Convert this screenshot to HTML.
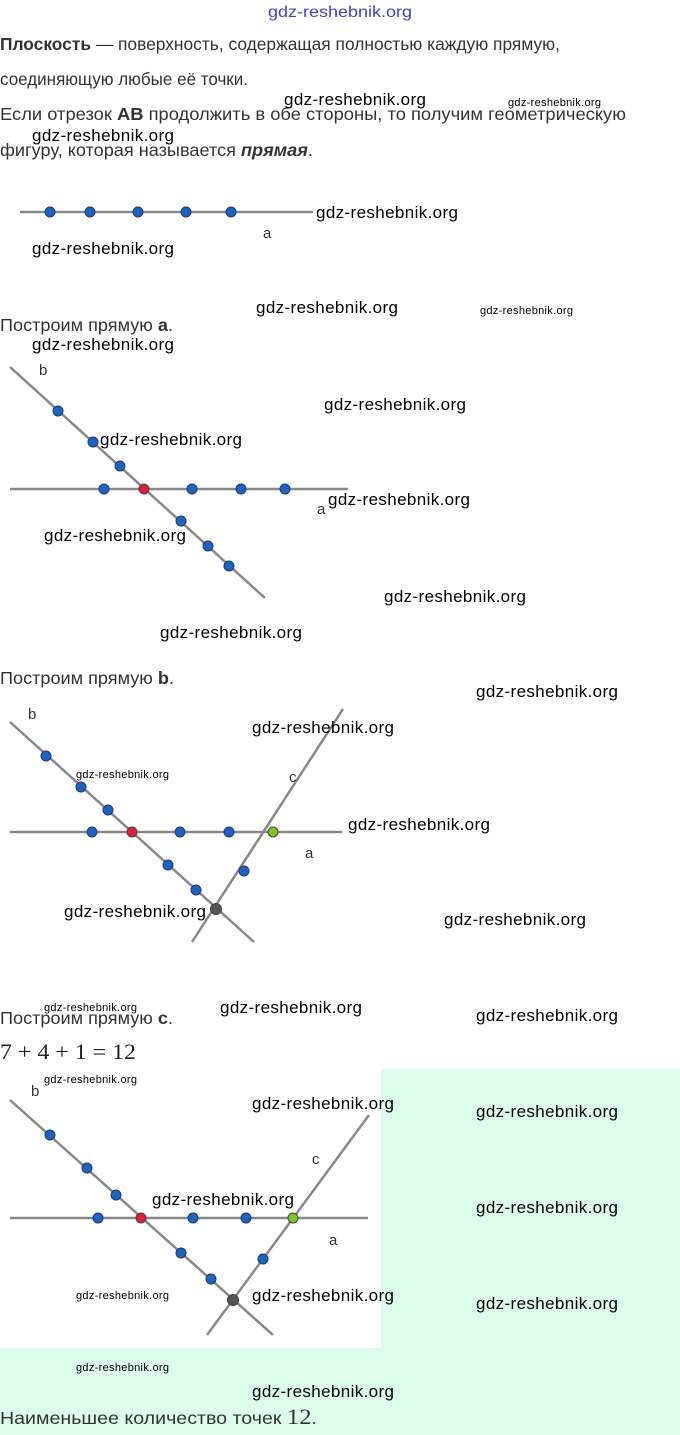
<!DOCTYPE html>
<html><head><meta charset="utf-8"><style>
html,body{margin:0;padding:0;background:#fff;}
svg{display:block;}
.t{font-family:"Liberation Sans",sans-serif;font-size:17.5px;fill:#333;}
.w{font-family:"Liberation Sans",sans-serif;font-size:17px;fill:#000;}
.s{font-family:"Liberation Sans",sans-serif;font-size:11px;fill:#000;}
.l{font-family:"Liberation Sans",sans-serif;font-size:15px;fill:#333;}
</style></head><body>
<svg width="680" height="1435" viewBox="0 0 680 1435" xmlns="http://www.w3.org/2000/svg">
<rect x="381" y="1069" width="299" height="366" fill="#dcfcec"/>
<rect x="0" y="1348" width="381" height="87" fill="#dcfcec"/>
<text x="340" y="17" text-anchor="middle" font-family="Liberation Sans,sans-serif" font-size="16" fill="#4040d0" textLength="144" lengthAdjust="spacingAndGlyphs">gdz-reshebnik.org</text>

<text class="t" x="0" y="50" textLength="560" lengthAdjust="spacingAndGlyphs"><tspan font-weight="bold">Плоскость</tspan> — поверхность, содержащая полностью каждую прямую,</text>
<text class="t" x="0" y="85" textLength="248" lengthAdjust="spacingAndGlyphs">соединяющую любые её точки.</text>
<text class="t" x="0" y="120" textLength="626" lengthAdjust="spacingAndGlyphs">Если отрезок <tspan font-weight="bold">AB</tspan> продолжить в обе стороны, то получим геометрическую</text>
<text class="t" x="0" y="156" textLength="313" lengthAdjust="spacingAndGlyphs">фигуру, которая называется <tspan font-weight="bold" font-style="italic">прямая</tspan>.</text>

<g stroke="#888" stroke-width="2.5">
<line x1="20" y1="212" x2="313" y2="212"/>
<line x1="10" y1="489" x2="348" y2="489"/>
<line x1="10" y1="367" x2="265" y2="598"/>
<line x1="10" y1="832" x2="342" y2="832"/>
<line x1="10" y1="722" x2="254" y2="942"/>
<line x1="343" y1="709" x2="192" y2="942"/>
<line x1="10" y1="1218" x2="368" y2="1218"/>
<line x1="10" y1="1100" x2="273" y2="1335"/>
<line x1="369" y1="1115" x2="207" y2="1335"/>
</g>
<g fill="#1f62c0" stroke="#1a3a70" stroke-width="1">
<circle cx="50" cy="212" r="5"/><circle cx="90" cy="212" r="5"/><circle cx="138" cy="212" r="5"/><circle cx="186" cy="212" r="5"/><circle cx="231" cy="212" r="5"/>
<circle cx="104" cy="489" r="5"/><circle cx="192" cy="489" r="5"/><circle cx="241" cy="489" r="5"/><circle cx="285" cy="489" r="5"/>
<circle cx="58" cy="411" r="5"/><circle cx="93" cy="442" r="5"/><circle cx="120" cy="466" r="5"/><circle cx="181" cy="521" r="5"/><circle cx="208" cy="546" r="5"/><circle cx="229" cy="566" r="5"/>
<circle cx="92" cy="832" r="5"/><circle cx="180" cy="832" r="5"/><circle cx="229" cy="832" r="5"/>
<circle cx="46" cy="756" r="5"/><circle cx="81" cy="787" r="5"/><circle cx="108" cy="810" r="5"/><circle cx="168" cy="865" r="5"/><circle cx="196" cy="890" r="5"/><circle cx="244" cy="871" r="5"/>
<circle cx="98" cy="1218" r="5"/><circle cx="193" cy="1218" r="5"/><circle cx="246" cy="1218" r="5"/>
<circle cx="50" cy="1135" r="5"/><circle cx="87" cy="1168" r="5"/><circle cx="116" cy="1195" r="5"/><circle cx="181" cy="1253" r="5"/><circle cx="211" cy="1279" r="5"/><circle cx="263" cy="1259" r="5"/>
</g>
<g stroke="#444" stroke-width="1">
<circle cx="144" cy="489" r="5" fill="#e0203a"/>
<circle cx="132" cy="832" r="5" fill="#e0203a"/>
<circle cx="273" cy="832" r="5" fill="#7ac820"/>
<circle cx="216" cy="909" r="5.5" fill="#555"/>
<circle cx="141" cy="1218" r="5" fill="#e0203a"/>
<circle cx="293" cy="1218" r="5" fill="#7ac820"/>
<circle cx="233" cy="1300" r="5.5" fill="#555"/>
</g>
<text class="l" x="263" y="238">a</text>
<text class="l" x="39" y="375">b</text><text class="l" x="317" y="514">a</text>
<text class="l" x="28" y="719">b</text><text class="l" x="289" y="782">c</text><text class="l" x="305" y="858">a</text>
<text class="l" x="31" y="1096">b</text><text class="l" x="312" y="1164">c</text><text class="l" x="329" y="1245">a</text>

<text class="t" x="0" y="331" textLength="173" lengthAdjust="spacingAndGlyphs">Построим прямую <tspan font-weight="bold">a</tspan>.</text>
<text class="t" x="0" y="684" textLength="174" lengthAdjust="spacingAndGlyphs">Построим прямую <tspan font-weight="bold">b</tspan>.</text>
<text class="t" x="0" y="1024" textLength="173" lengthAdjust="spacingAndGlyphs">Построим прямую <tspan font-weight="bold">c</tspan>.</text>
<text x="0" y="1059" font-family="Liberation Serif,serif" font-size="22" fill="#222" textLength="136" lengthAdjust="spacingAndGlyphs">7 + 4 + 1 = 12</text>
<text class="t" x="0" y="1424" fill="#444" font-size="19" textLength="317" lengthAdjust="spacingAndGlyphs">Наименьшее количество точек <tspan font-family="Liberation Serif,serif" font-size="22">12</tspan>.</text>

<g class="w">
<text class="w" x="284" y="105" textLength="142">gdz-reshebnik.org</text>
<text class="w" x="32" y="141" textLength="142">gdz-reshebnik.org</text>
<text class="w" x="316" y="218" textLength="142">gdz-reshebnik.org</text>
<text class="w" x="32" y="254" textLength="142">gdz-reshebnik.org</text>
<text class="w" x="256" y="313" textLength="142">gdz-reshebnik.org</text>
<text class="w" x="32" y="350" textLength="142">gdz-reshebnik.org</text>
<text class="w" x="324" y="410" textLength="142">gdz-reshebnik.org</text>
<text class="w" x="100" y="445" textLength="142">gdz-reshebnik.org</text>
<text class="w" x="328" y="505" textLength="142">gdz-reshebnik.org</text>
<text class="w" x="44" y="541" textLength="142">gdz-reshebnik.org</text>
<text class="w" x="384" y="602" textLength="142">gdz-reshebnik.org</text>
<text class="w" x="160" y="638" textLength="142">gdz-reshebnik.org</text>
<text class="w" x="476" y="697" textLength="142">gdz-reshebnik.org</text>
<text class="w" x="252" y="733" textLength="142">gdz-reshebnik.org</text>
<text class="w" x="348" y="830" textLength="142">gdz-reshebnik.org</text>
<text class="w" x="64" y="917" textLength="142">gdz-reshebnik.org</text>
<text class="w" x="444" y="925" textLength="142">gdz-reshebnik.org</text>
<text class="w" x="220" y="1013" textLength="142">gdz-reshebnik.org</text>
<text class="w" x="476" y="1021" textLength="142">gdz-reshebnik.org</text>
<text class="w" x="252" y="1109" textLength="142">gdz-reshebnik.org</text>
<text class="w" x="476" y="1117" textLength="142">gdz-reshebnik.org</text>
<text class="w" x="152" y="1205" textLength="142">gdz-reshebnik.org</text>
<text class="w" x="476" y="1213" textLength="142">gdz-reshebnik.org</text>
<text class="w" x="252" y="1301" textLength="142">gdz-reshebnik.org</text>
<text class="w" x="476" y="1309" textLength="142">gdz-reshebnik.org</text>
<text class="w" x="252" y="1397" textLength="142">gdz-reshebnik.org</text>
</g>
<text class="s" x="508" y="106" textLength="93">gdz-reshebnik.org</text>
<text class="s" x="480" y="314" textLength="93">gdz-reshebnik.org</text>
<text class="s" x="76" y="778" textLength="93">gdz-reshebnik.org</text>
<text class="s" x="44" y="1011" textLength="93">gdz-reshebnik.org</text>
<text class="s" x="44" y="1083" textLength="93">gdz-reshebnik.org</text>
<text class="s" x="76" y="1299" textLength="93">gdz-reshebnik.org</text>
<text class="s" x="76" y="1371" textLength="93">gdz-reshebnik.org</text>
</svg>
</body></html>
